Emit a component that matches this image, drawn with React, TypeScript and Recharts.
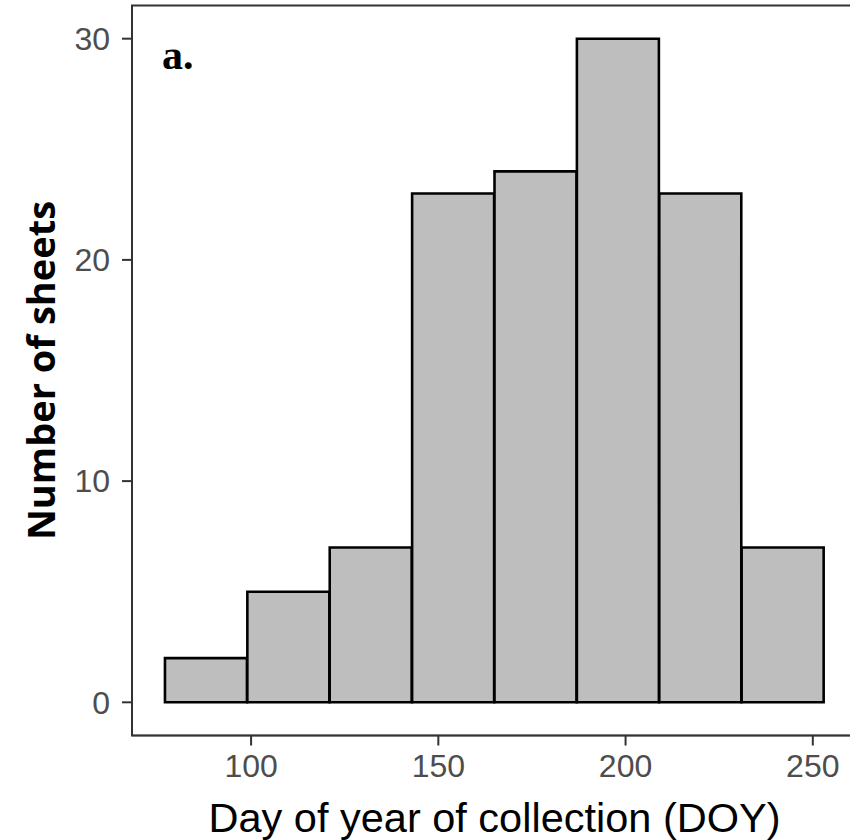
import { ComposedChart, Bar, XAxis, YAxis, ReferenceArea, Label } from 'recharts'

// histogram bins of collection day (bin width 22 days)
const binCenters = [88, 110, 132, 154, 176, 198, 220, 242]
const sheetCounts = [2, 5, 7, 23, 24, 30, 23, 7]
const xTicks = [100, 150, 200, 250]
const yTicks = [0, 10, 20, 30]
const xDomain: [number, number] = [68.2, 261.8]
const yDomain: [number, number] = [-1.5, 31.5]

const data = binCenters.map((doy, i) => ({ doy, count: sheetCounts[i] }))

const SANS = '"Liberation Sans", Arial, Helvetica, sans-serif'
const AXIS = '#333333'
const TICK_TEXT = '#4d4d4d'

export default function App() {
  return (
    <div style={{ position: 'absolute', left: 0, top: 0, width: 850, height: 840, overflow: 'hidden', background: '#fff' }}>
      <ComposedChart
        width={870}
        height={840}
        data={data}
        margin={{ top: 5.5, right: 13, bottom: 0, left: 0 }}
        barCategoryGap={0}
        barGap={0}
      >
        <XAxis
          dataKey="doy"
          type="number"
          domain={xDomain}
          ticks={xTicks}
          allowDataOverflow
          height={104.5}
          axisLine={{ stroke: AXIS, strokeWidth: 1.5 }}
          tickLine={{ stroke: AXIS, strokeWidth: 2 }}
          tickSize={10}
          tickMargin={9}
          tick={{ fill: TICK_TEXT, fontSize: 32, fontFamily: SANS }}
        >
          <Label
            content={({ viewBox }: any) => (
              <text
                x={viewBox.x + viewBox.width / 2}
                y={832}
                textAnchor="middle"
                fontFamily={SANS}
                fontSize={41.5}
                fill="#000"
              >
                Day of year of collection (DOY)
              </text>
            )}
          />
        </XAxis>
        <YAxis
          type="number"
          domain={yDomain}
          ticks={yTicks}
          allowDataOverflow
          width={132}
          axisLine={{ stroke: AXIS, strokeWidth: 1.5 }}
          tickLine={{ stroke: AXIS, strokeWidth: 2 }}
          tickSize={10}
          tickMargin={12}
          tick={{ fill: TICK_TEXT, fontSize: 32, fontFamily: SANS }}
        >
          <Label
            content={({ viewBox }: any) => (
              <text
                transform={`translate(55, ${viewBox.y + viewBox.height / 2}) rotate(-90)`}
                textAnchor="middle"
                fontFamily='"Open Sans", sans-serif'
                fontWeight={700}
                fontSize={38}
                fill="#000"
              >
                Number of sheets
              </text>
            )}
          />
        </YAxis>
        <ReferenceArea
          x1={xDomain[0]}
          x2={xDomain[1]}
          y1={yDomain[0]}
          y2={yDomain[1]}
          fill="none"
          stroke={AXIS}
          strokeWidth={2}
          fillOpacity={0}
        />
        <Bar
          dataKey="count"
          fill="#bebebe"
          stroke="#000"
          strokeWidth={2.6}
          isAnimationActive={false}
        />
      </ComposedChart>
      <svg width={850} height={840} style={{ position: 'absolute', left: 0, top: 0, pointerEvents: 'none' }}>
        <text x={162} y={69} fontFamily='"Liberation Serif", "Times New Roman", serif' fontWeight={700} fontSize={42} fill="#000">
          a.
        </text>
      </svg>
    </div>
  )
}
